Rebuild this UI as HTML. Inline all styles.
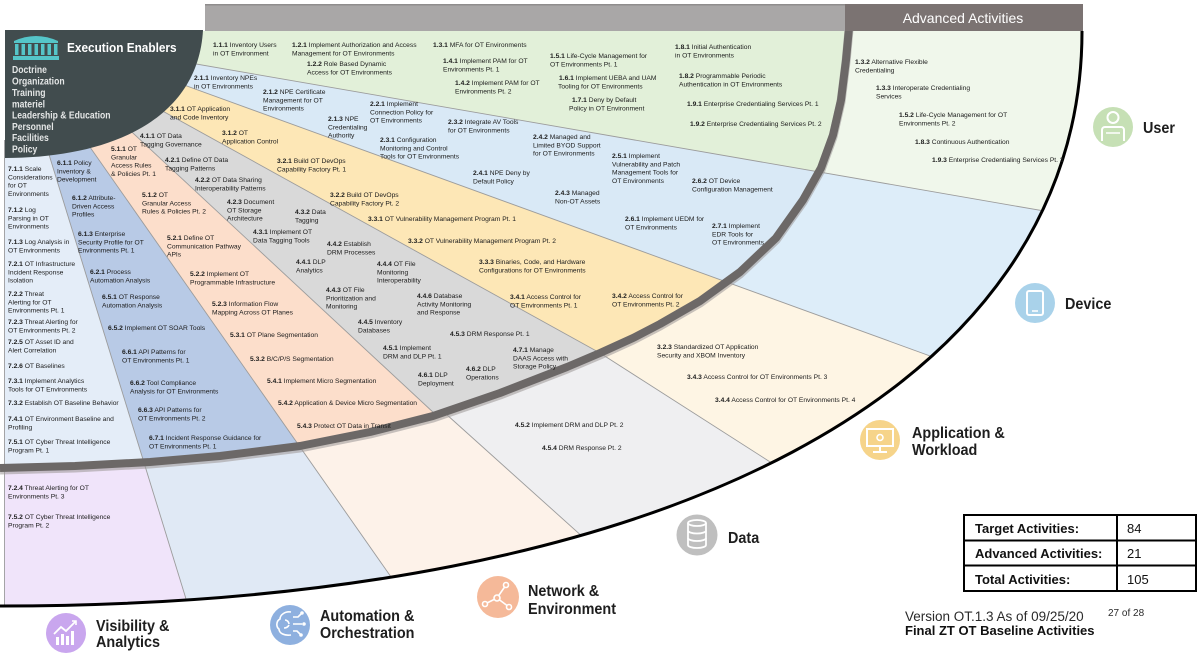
<!DOCTYPE html>
<html><head><meta charset="utf-8"><style>
html,body{margin:0;padding:0;background:#fff;overflow:hidden;width:1200px;height:654px;}
svg{display:block;}
text{font-family:"Liberation Sans",Arial,sans-serif;}
.s{font-size:6.7px;fill:#1c1c1c;}
.b{font-weight:bold;}
.big{font-size:16px;font-weight:bold;fill:#1e1e1e;}
</style></head><body>
<svg width="1200" height="654" viewBox="0 0 1200 654" xmlns="http://www.w3.org/2000/svg">
<defs>
<clipPath id="fan"><path d="M4,31 L1082,31 C1082,387 670.8,606 4,606 Z"/></clipPath>
<clipPath id="inner"><path d="M0,0 L850,0 L849,28 L846,60 L841,100 L833,135 L821,168 L803,200 L776,238 L740,272 L700,301 L660,324 L633,338 L600,353 L567,367 L500,393 L433,416 L370,432 L300,446 L220,456 L150,462 L75,466 L0,468 Z"/></clipPath>
</defs>
<rect width="1200" height="654" fill="#fff"/>

<!-- advanced (outer) colors -->
<g clip-path="url(#fan)">
<polygon points="150,0 1200,0 1200,238 150,56" fill="#f0f7eb"/>
<polygon points="150,56 1200,238 1200,454 140,69" fill="#ddedf9"/>
<polygon points="140,69 1200,454 1200,654 1070,654 600,353 130,93" fill="#fef5e4"/>
<polygon points="130,93 600,353 1070,654 713,654 446,414 435,414 120,121" fill="#efeff1"/>
<polygon points="120,121 435,414 446,414 713,654 445,654 85,140" fill="#fdf2e9"/>
<polygon points="85,140 445,654 203,654 44.5,140" fill="#e0e9f5"/>
<polygon points="44.5,140 203,654 0,654 0,140" fill="#f0e4fa"/>
<!-- target (inner) colors -->
<g clip-path="url(#inner)">
<polygon points="150,0 1200,0 1200,238 150,56" fill="#e2f0d9"/>
<polygon points="150,56 1200,238 1200,454 140,69" fill="#d9e9f6"/>
<polygon points="140,69 1200,454 1200,654 1070,654 600,353 130,93" fill="#fde7b6"/>
<polygon points="130,93 600,353 1070,654 713,654 446,414 435,414 120,121" fill="#d9d9d9"/>
<polygon points="120,121 435,414 446,414 713,654 445,654 85,140" fill="#fcdecb"/>
<polygon points="85,140 445,654 203,654 44.5,140" fill="#b8cae6"/>
<polygon points="44.5,140 203,654 0,654 0,140" fill="#e4edf8"/>
</g>
<!-- boundary lines -->
<g fill="none" stroke="#9c9c9c" stroke-width="0.9">
<polyline points="150,56 1200,238"/>
<polyline points="140,69 1200,454"/>
<polyline points="130,93 600,353 1070,654"/>
<polyline points="120,121 435,414 446,414 713,654"/>
<polyline points="85,140 445,654"/>
<polyline points="44.5,140 203,654"/>
<line x1="4.5" y1="140" x2="4.5" y2="610"/>
</g>
</g>

<!-- gray target arc -->
<path d="M849,30 L846,62 L841,102 L833,137 L821,170 L803,202 L776,240 L740,274 L700,303 L660,326 L633,340 L600,355 L567,369 L500,395 L433,418 L370,434 L300,448 L220,458 L150,464 L75,468 L0,470" fill="none" stroke="#a19d9c" stroke-width="9" stroke-linejoin="round" opacity="0.6"/>
<path d="M849,28 L846,60 L841,100 L833,135 L821,168 L803,200 L776,238 L740,272 L700,301 L660,324 L633,338 L600,353 L567,367 L500,393 L433,416 L370,432 L300,446 L220,456 L150,462 L75,466 L0,468" fill="none" stroke="#6c6867" stroke-width="8" stroke-linejoin="round"/>
<!-- outer black arc -->
<path d="M1082,31 C1082,387 670.8,606 0,606" fill="none" stroke="#000" stroke-width="3"/>

<!-- Execution enablers block -->
<path d="M5,30 L203,30 C198,120 110,158 5,158 Z" fill="#414c4e"/>
<g fill="#55c5c9">
<path d="M14,41 Q36,31 58,41 L58,43 L14,43 Z"/>
<rect x="15" y="44" width="3.5" height="11"/>
<rect x="21.5" y="44" width="3.5" height="11"/>
<rect x="28" y="44" width="3.5" height="11"/>
<rect x="34.5" y="44" width="3.5" height="11"/>
<rect x="41" y="44" width="3.5" height="11"/>
<rect x="47.5" y="44" width="3.5" height="11"/>
<rect x="54" y="44" width="3.5" height="11"/>
<rect x="13" y="56" width="46" height="4"/>
</g>
<text transform="matrix(0.91,0,0,1,67,52)" style="font-size:13px;font-weight:bold;fill:#fff">Execution Enablers</text>
<g style="font-size:10.5px;font-weight:bold;fill:#e4e6e6">
<text transform="matrix(0.82,0,0,1,12,73)">Doctrine</text>
<text transform="matrix(0.82,0,0,1,12,84.5)">Organization</text>
<text transform="matrix(0.82,0,0,1,12,96)">Training</text>
<text transform="matrix(0.82,0,0,1,12,107.3)">materiel</text>
<text transform="matrix(0.82,0,0,1,12,118.5)">Leadership &amp; Education</text>
<text transform="matrix(0.82,0,0,1,12,129.8)">Personnel</text>
<text transform="matrix(0.82,0,0,1,12,141)">Facilities</text>
<text transform="matrix(0.82,0,0,1,12,152.3)">Policy</text>
</g>

<!-- top band -->
<rect x="205" y="4" width="878" height="27" fill="#a9a7a7"/>
<rect x="205" y="4" width="878" height="1.5" fill="#8f8d8d"/>
<rect x="845" y="4" width="238" height="27" fill="#7b7372"/>
<text x="963" y="23" text-anchor="middle" style="font-size:14px;fill:#fff">Advanced Activities</text>

<!-- labels -->
<g class="s">
<!-- User target -->
<text x="213" y="47"><tspan class="b">1.1.1</tspan> Inventory Users<tspan x="213" dy="8.3">in OT Environment</tspan></text>
<text x="292" y="47"><tspan class="b">1.2.1</tspan> Implement Authorization and Access<tspan x="292" dy="8.3">Management for OT Environments</tspan></text>
<text x="307" y="66"><tspan class="b">1.2.2</tspan> Role Based Dynamic<tspan x="307" dy="8.3">Access for OT Environments</tspan></text>
<text x="433" y="47"><tspan class="b">1.3.1</tspan> MFA for OT Environments</text>
<text x="443" y="63"><tspan class="b">1.4.1</tspan> Implement PAM for OT<tspan x="443" dy="8.3">Environments Pt. 1</tspan></text>
<text x="455" y="85"><tspan class="b">1.4.2</tspan> Implement PAM for OT<tspan x="455" dy="8.3">Environments Pt. 2</tspan></text>
<text x="550" y="58"><tspan class="b">1.5.1</tspan> Life-Cycle Management for<tspan x="550" dy="8.3">OT Environments Pt. 1</tspan></text>
<text x="559" y="80"><tspan class="b">1.6.1</tspan>  Implement UEBA and UAM<tspan x="558" dy="8.3">Tooling for OT Environments</tspan></text>
<text x="572" y="102"><tspan class="b">1.7.1</tspan> Deny by Default<tspan x="569" dy="8.3">Policy in OT Environment</tspan></text>
<text x="675" y="49"><tspan class="b">1.8.1</tspan> Initial Authentication<tspan x="675" dy="8.3">in OT Environments</tspan></text>
<text x="679" y="78"><tspan class="b">1.8.2</tspan> Programmable Periodic<tspan x="679" dy="8.3">Authentication in OT Environments</tspan></text>
<text x="687" y="106"><tspan class="b">1.9.1</tspan> Enterprise Credentialing Services Pt. 1</text>
<text x="690" y="126"><tspan class="b">1.9.2</tspan> Enterprise Credentialing Services Pt. 2</text>
<!-- User advanced -->
<text x="855" y="64"><tspan class="b">1.3.2</tspan> Alternative Flexible<tspan x="855" dy="8.3">Credentialing</tspan></text>
<text x="876" y="90"><tspan class="b">1.3.3</tspan> Interoperate Credentialing<tspan x="876" dy="8.3">Services</tspan></text>
<text x="899" y="117"><tspan class="b">1.5.2</tspan> Life-Cycle Management for OT<tspan x="899" dy="8.3">Environments Pt. 2</tspan></text>
<text x="915" y="144"><tspan class="b">1.8.3</tspan> Continuous Authentication</text>
<text x="932" y="162"><tspan class="b">1.9.3</tspan> Enterprise Credentialing Services Pt. 3</text>
<!-- Device -->
<text x="194" y="80"><tspan class="b">2.1.1</tspan> Inventory NPEs<tspan x="194" dy="8.3">in OT Environments</tspan></text>
<text x="263" y="94"><tspan class="b">2.1.2</tspan> NPE Certificate<tspan x="263" dy="8.3">Management for OT</tspan><tspan x="263" dy="8.3">Environments</tspan></text>
<text x="328" y="121"><tspan class="b">2.1.3</tspan> NPE<tspan x="328" dy="8.3">Credentialing</tspan><tspan x="328" dy="8.3">Authority</tspan></text>
<text x="370" y="106"><tspan class="b">2.2.1</tspan> Implement<tspan x="370" dy="8.3">Connection Policy for</tspan><tspan x="370" dy="8.3">OT Environments</tspan></text>
<text x="380" y="142"><tspan class="b">2.3.1</tspan> Configuration<tspan x="380" dy="8.3">Monitoring and Control</tspan><tspan x="380" dy="8.3">Tools for OT Environments</tspan></text>
<text x="448" y="124"><tspan class="b">2.3.2</tspan> Integrate AV Tools<tspan x="448" dy="8.3">for OT Environments</tspan></text>
<text x="473" y="175"><tspan class="b">2.4.1</tspan> NPE Deny by<tspan x="473" dy="8.3">Default Policy</tspan></text>
<text x="533" y="139"><tspan class="b">2.4.2</tspan> Managed and<tspan x="533" dy="8.3">Limited BYOD Support</tspan><tspan x="533" dy="8.3">for OT Environments</tspan></text>
<text x="555" y="195"><tspan class="b">2.4.3</tspan> Managed<tspan x="555" dy="8.3">Non-OT Assets</tspan></text>
<text x="612" y="158"><tspan class="b">2.5.1</tspan> Implement<tspan x="612" dy="8.3">Vulnerability and Patch</tspan><tspan x="612" dy="8.3">Management Tools for</tspan><tspan x="612" dy="8.3">OT Environments</tspan></text>
<text x="692" y="183"><tspan class="b">2.6.2</tspan> OT Device<tspan x="692" dy="8.3">Configuration Management</tspan></text>
<text x="625" y="221"><tspan class="b">2.6.1</tspan> Implement UEDM for<tspan x="625" dy="8.3">OT Environments</tspan></text>
<text x="712" y="228"><tspan class="b">2.7.1</tspan> Implement<tspan x="712" dy="8.3">EDR Tools for</tspan><tspan x="712" dy="8.3">OT Environments</tspan></text>
<!-- Application -->
<text x="170" y="111"><tspan class="b">3.1.1</tspan> OT Application<tspan x="170" dy="8.3">and Code Inventory</tspan></text>
<text x="222" y="135"><tspan class="b">3.1.2</tspan> OT<tspan x="222" dy="8.3">Application Control</tspan></text>
<text x="277" y="163"><tspan class="b">3.2.1</tspan> Build OT DevOps<tspan x="277" dy="8.3">Capability Factory Pt. 1</tspan></text>
<text x="330" y="197"><tspan class="b">3.2.2</tspan> Build OT DevOps<tspan x="330" dy="8.3">Capability Factory Pt. 2</tspan></text>
<text x="368" y="221"><tspan class="b">3.3.1</tspan> OT Vulnerability Management Program Pt. 1</text>
<text x="408" y="243"><tspan class="b">3.3.2</tspan> OT Vulnerability Management Program Pt. 2</text>
<text x="479" y="264"><tspan class="b">3.3.3</tspan> Binaries, Code, and Hardware<tspan x="479" dy="8.3">Configurations for OT Environments</tspan></text>
<text x="510" y="299"><tspan class="b">3.4.1</tspan> Access Control for<tspan x="510" dy="8.3">OT Environments Pt. 1</tspan></text>
<text x="612" y="298"><tspan class="b">3.4.2</tspan> Access Control for<tspan x="612" dy="8.3">OT Environments Pt. 2</tspan></text>
<text x="657" y="349"><tspan class="b">3.2.3</tspan> Standardized OT Application<tspan x="657" dy="8.3">Security and XBOM Inventory</tspan></text>
<text x="687" y="379"><tspan class="b">3.4.3</tspan> Access Control for OT Environments Pt. 3</text>
<text x="715" y="402"><tspan class="b">3.4.4</tspan> Access Control for OT Environments Pt. 4</text>
<!-- Data -->
<text x="140" y="138"><tspan class="b">4.1.1</tspan> OT Data<tspan x="140" dy="8.3">Tagging Governance</tspan></text>
<text x="165" y="162"><tspan class="b">4.2.1</tspan> Define OT Data<tspan x="165" dy="8.3">Tagging Patterns</tspan></text>
<text x="195" y="182"><tspan class="b">4.2.2</tspan> OT Data Sharing<tspan x="195" dy="8.3">Interoperability Patterns</tspan></text>
<text x="227" y="204"><tspan class="b">4.2.3</tspan> Document<tspan x="227" dy="8.3">OT Storage</tspan><tspan x="227" dy="8.3">Architecture</tspan></text>
<text x="295" y="214"><tspan class="b">4.3.2</tspan> Data<tspan x="295" dy="8.3">Tagging</tspan></text>
<text x="253" y="234"><tspan class="b">4.3.1</tspan> Implement OT<tspan x="253" dy="8.3">Data Tagging Tools</tspan></text>
<text x="327" y="246"><tspan class="b">4.4.2</tspan> Establish<tspan x="327" dy="8.3">DRM Processes</tspan></text>
<text x="296" y="264"><tspan class="b">4.4.1</tspan> DLP<tspan x="296" dy="8.3">Analytics</tspan></text>
<text x="377" y="266"><tspan class="b">4.4.4</tspan> OT File<tspan x="377" dy="8.3">Monitoring</tspan><tspan x="377" dy="8.3">Interoperability</tspan></text>
<text x="326" y="292"><tspan class="b">4.4.3</tspan> OT File<tspan x="326" dy="8.3">Prioritization and</tspan><tspan x="326" dy="8.3">Monitoring</tspan></text>
<text x="417" y="298"><tspan class="b">4.4.6</tspan> Database<tspan x="417" dy="8.3">Activity Monitoring</tspan><tspan x="417" dy="8.3">and Response</tspan></text>
<text x="358" y="324"><tspan class="b">4.4.5</tspan> Inventory<tspan x="358" dy="8.3">Databases</tspan></text>
<text x="450" y="336"><tspan class="b">4.5.3</tspan> DRM Response Pt. 1</text>
<text x="383" y="350"><tspan class="b">4.5.1</tspan> Implement<tspan x="383" dy="8.3">DRM and DLP Pt. 1</tspan></text>
<text x="513" y="352"><tspan class="b">4.7.1</tspan> Manage<tspan x="513" dy="8.3">DAAS Access with</tspan><tspan x="513" dy="8.3">Storage Policy</tspan></text>
<text x="418" y="377"><tspan class="b">4.6.1</tspan> DLP<tspan x="418" dy="8.3">Deployment</tspan></text>
<text x="466" y="371"><tspan class="b">4.6.2</tspan> DLP<tspan x="466" dy="8.3">Operations</tspan></text>
<text x="515" y="427"><tspan class="b">4.5.2</tspan> Implement DRM and DLP Pt. 2</text>
<text x="542" y="450"><tspan class="b">4.5.4</tspan> DRM Response Pt. 2</text>
<!-- Network -->
<text x="111" y="151"><tspan class="b">5.1.1</tspan> OT<tspan x="111" dy="8.3">Granular</tspan><tspan x="111" dy="8.3">Access Rules</tspan><tspan x="111" dy="8.3">&amp; Policies Pt. 1</tspan></text>
<text x="142" y="197"><tspan class="b">5.1.2</tspan> OT<tspan x="142" dy="8.3">Granular Access</tspan><tspan x="142" dy="8.3">Rules &amp; Policies Pt. 2</tspan></text>
<text x="167" y="240"><tspan class="b">5.2.1</tspan> Define OT<tspan x="167" dy="8.3">Communication Pathway</tspan><tspan x="167" dy="8.3">APIs</tspan></text>
<text x="190" y="276"><tspan class="b">5.2.2</tspan> Implement OT<tspan x="190" dy="8.3">Programmable Infrastructure</tspan></text>
<text x="212" y="306"><tspan class="b">5.2.3</tspan> Information Flow<tspan x="212" dy="8.3">Mapping Across OT Planes</tspan></text>
<text x="230" y="337"><tspan class="b">5.3.1</tspan> OT Plane Segmentation</text>
<text x="250" y="361"><tspan class="b">5.3.2</tspan> B/C/P/S Segmentation</text>
<text x="267" y="383"><tspan class="b">5.4.1</tspan> Implement Micro Segmentation</text>
<text x="278" y="405"><tspan class="b">5.4.2</tspan> Application &amp; Device Micro Segmentation</text>
<text x="297" y="428"><tspan class="b">5.4.3</tspan> Protect OT Data in Transit</text>
<!-- Automation -->
<text x="57" y="165"><tspan class="b">6.1.1</tspan> Policy<tspan x="57" dy="8.3">Inventory &amp;</tspan><tspan x="57" dy="8.3">Development</tspan></text>
<text x="72" y="200"><tspan class="b">6.1.2</tspan> Attribute-<tspan x="72" dy="8.3">Driven Access</tspan><tspan x="72" dy="8.3">Profiles</tspan></text>
<text x="78" y="236"><tspan class="b">6.1.3</tspan> Enterprise<tspan x="78" dy="8.3">Security Profile for OT</tspan><tspan x="78" dy="8.3">Environments Pt. 1</tspan></text>
<text x="90" y="274"><tspan class="b">6.2.1</tspan> Process<tspan x="90" dy="8.3">Automation Analysis</tspan></text>
<text x="102" y="299"><tspan class="b">6.5.1</tspan> OT Response<tspan x="102" dy="8.3">Automation Analysis</tspan></text>
<text x="108" y="330"><tspan class="b">6.5.2</tspan> Implement OT SOAR Tools</text>
<text x="122" y="354"><tspan class="b">6.6.1</tspan> API Patterns for<tspan x="122" dy="8.3">OT Environments Pt. 1</tspan></text>
<text x="130" y="385"><tspan class="b">6.6.2</tspan> Tool Compliance<tspan x="130" dy="8.3">Analysis for OT Environments</tspan></text>
<text x="138" y="412"><tspan class="b">6.6.3</tspan> API Patterns for<tspan x="138" dy="8.3">OT Environments Pt. 2</tspan></text>
<text x="149" y="440"><tspan class="b">6.7.1</tspan> Incident Response Guidance for<tspan x="149" dy="8.3">OT Environments Pt. 1</tspan></text>
<!-- Visibility -->
<text x="8" y="171"><tspan class="b">7.1.1</tspan> Scale<tspan x="8" dy="8.3">Considerations</tspan><tspan x="8" dy="8.3">for OT</tspan><tspan x="8" dy="8.3">Environments</tspan></text>
<text x="8" y="212"><tspan class="b">7.1.2</tspan> Log<tspan x="8" dy="8.3">Parsing in OT</tspan><tspan x="8" dy="8.3">Environments</tspan></text>
<text x="8" y="244"><tspan class="b">7.1.3</tspan> Log Analysis in<tspan x="8" dy="8.3">OT Environments</tspan></text>
<text x="8" y="266"><tspan class="b">7.2.1</tspan> OT Infrastructure<tspan x="8" dy="8.3">Incident Response</tspan><tspan x="8" dy="8.3">Isolation</tspan></text>
<text x="8" y="296"><tspan class="b">7.2.2</tspan> Threat<tspan x="8" dy="8.3">Alerting for OT</tspan><tspan x="8" dy="8.3">Environments Pt. 1</tspan></text>
<text x="8" y="324"><tspan class="b">7.2.3</tspan> Threat Alerting for<tspan x="8" dy="8.3">OT Environments Pt. 2</tspan></text>
<text x="8" y="344"><tspan class="b">7.2.5</tspan> OT Asset ID and<tspan x="8" dy="8.3">Alert Correlation</tspan></text>
<text x="8" y="368"><tspan class="b">7.2.6</tspan> OT Baselines</text>
<text x="8" y="383"><tspan class="b">7.3.1</tspan> Implement Analytics<tspan x="8" dy="8.3">Tools for OT Environments</tspan></text>
<text x="8" y="405"><tspan class="b">7.3.2</tspan> Establish OT Baseline Behavior</text>
<text x="8" y="421"><tspan class="b">7.4.1</tspan> OT Environment Baseline and<tspan x="8" dy="8.3">Profiling</tspan></text>
<text x="8" y="444"><tspan class="b">7.5.1</tspan> OT Cyber Threat Intelligence<tspan x="8" dy="8.3">Program Pt. 1</tspan></text>
<text x="8" y="490"><tspan class="b">7.2.4</tspan> Threat Alerting for OT<tspan x="8" dy="8.3">Environments Pt. 3</tspan></text>
<text x="8" y="519"><tspan class="b">7.5.2</tspan> OT Cyber Threat Intelligence<tspan x="8" dy="8.3">Program Pt. 2</tspan></text>
</g>

<!-- pillar icons -->
<!-- User -->
<circle cx="1113" cy="127" r="20" fill="#c6e0b5"/>
<circle cx="1113" cy="117.5" r="5.5" fill="none" stroke="#fff" stroke-width="2"/>
<path d="M1102,141 v-11 a3,3 0 0 1 3,-3 h16 a3,3 0 0 1 3,3 v11" fill="none" stroke="#fff" stroke-width="2"/>
<line x1="1106" y1="133" x2="1120" y2="133" stroke="#fff" stroke-width="1.5"/>
<text class="big" transform="matrix(0.9,0,0,1,1143,133)">User</text>
<!-- Device -->
<circle cx="1035" cy="303" r="20" fill="#a9d2ea"/>
<rect x="1027" y="291" width="16" height="24" rx="2" fill="none" stroke="#fff" stroke-width="2"/>
<line x1="1032" y1="311" x2="1038" y2="311" stroke="#fff" stroke-width="1.5"/>
<text class="big" transform="matrix(0.9,0,0,1,1065,309)">Device</text>
<!-- Application -->
<circle cx="880" cy="440" r="20" fill="#f6d48a"/>
<rect x="867" y="429" width="26" height="17" fill="none" stroke="#fff" stroke-width="2"/>
<line x1="880" y1="446" x2="880" y2="451" stroke="#fff" stroke-width="2"/>
<line x1="873" y1="452" x2="887" y2="452" stroke="#fff" stroke-width="2"/>
<circle cx="880" cy="437.5" r="3" fill="none" stroke="#fff" stroke-width="1.6"/>
<text class="big" transform="matrix(0.9,0,0,1,912,438)">Application &amp;<tspan x="0" dy="17">Workload</tspan></text>
<!-- Data -->
<circle cx="697" cy="535" r="20.5" fill="#bfbfbf"/>
<g fill="none" stroke="#fff" stroke-width="1.8">
<ellipse cx="697" cy="523" rx="9" ry="3"/>
<path d="M688,523 v22 a9,3 0 0 0 18,0 v-22"/>
<path d="M688,530.5 a9,3 0 0 0 18,0"/>
<path d="M688,538 a9,3 0 0 0 18,0"/>
</g>
<text class="big" transform="matrix(0.9,0,0,1,728,543)">Data</text>
<!-- Network -->
<circle cx="498" cy="597" r="21" fill="#f5b999"/>
<g stroke="#fff" stroke-width="1.6" fill="#f5b999">
<line x1="497" y1="598" x2="506" y2="585"/>
<line x1="497" y1="598" x2="485" y2="604"/>
<line x1="497" y1="598" x2="509" y2="607"/>
<circle cx="497" cy="598" r="3"/>
<circle cx="506" cy="585" r="2.5"/>
<circle cx="485" cy="604" r="2.5"/>
<circle cx="509" cy="607" r="2.5"/>
</g>
<text class="big" transform="matrix(0.9,0,0,1,528,596)">Network &amp;<tspan x="0" dy="18">Environment</tspan></text>
<!-- Automation -->
<circle cx="290" cy="625" r="20" fill="#8eb0df"/>
<g fill="none" stroke="#fff" stroke-width="1.6">
<path d="M291,612 c-6,-1 -11,3 -11,7 c-4,2 -4,8 -1,10 c0,4 5,7 12,6"/>
<path d="M285,620 c2,0 4,2 4,4 M284,628 c2,0 4,-1 5,-3"/>
<path d="M293,617 h5 l3,-3 M293,624 h9 M293,631 h4 l3,3"/>
</g>
<g fill="#fff"><circle cx="302" cy="613" r="1.8"/><circle cx="304" cy="624" r="1.8"/><circle cx="301" cy="635" r="1.8"/></g>
<text class="big" transform="matrix(0.9,0,0,1,320,621)">Automation &amp;<tspan x="0" dy="17">Orchestration</tspan></text>
<!-- Visibility -->
<circle cx="66" cy="633" r="20" fill="#c9a6ee"/>
<g fill="#fff">
<rect x="56" y="637" width="3" height="8"/>
<rect x="61" y="634" width="3" height="11"/>
<rect x="66" y="636" width="3" height="9"/>
<rect x="71" y="631" width="3" height="14"/>
</g>
<polyline points="54,634 61,627 66,631 76,621" fill="none" stroke="#fff" stroke-width="1.8"/>
<polyline points="72,621 76,621 76,625" fill="none" stroke="#fff" stroke-width="1.6"/>
<text class="big" transform="matrix(0.9,0,0,1,96,631)">Visibility &amp;<tspan x="0" dy="16">Analytics</tspan></text>

<!-- table -->
<g fill="none" stroke="#000" stroke-width="2">
<rect x="964" y="515" width="232" height="76"/>
<line x1="964" y1="540.5" x2="1196" y2="540.5"/>
<line x1="964" y1="565.5" x2="1196" y2="565.5"/>
<line x1="1117" y1="515" x2="1117" y2="591"/>
</g>
<g style="font-size:13px;fill:#111">
<text x="975" y="533" font-weight="bold">Target Activities:</text>
<text x="975" y="558" font-weight="bold">Advanced Activities:</text>
<text x="975" y="584" font-weight="bold">Total Activities:</text>
<text x="1127" y="533">84</text>
<text x="1127" y="558">21</text>
<text x="1127" y="584">105</text>
</g>
<text x="905" y="621" style="font-size:13.5px;fill:#2a2a2a">Version OT.1.3 As of 09/25/20</text>
<text x="1108" y="616" style="font-size:10px;fill:#2a2a2a">27 of 28</text>
<text x="905" y="635" style="font-size:13px;font-weight:bold;fill:#111">Final ZT OT Baseline Activities</text>
</svg>
</body></html>
